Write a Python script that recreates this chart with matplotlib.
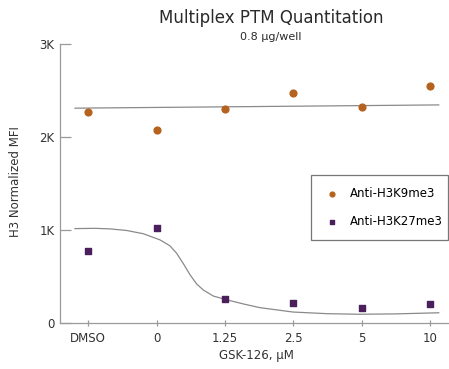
import matplotlib
matplotlib.use("Agg")
import matplotlib.pyplot as plt

# data
categories = ['DMSO', '0', '1.25', '2.5', '5', '10']
h3k9 = [2270, 2070, 2300, 2470, 2320, 2550]
h3k27 = [770, 1020, 260, 210, 165, 200]

# fitted curves (x in category positions)
k9_fit_x = [-0.195, 5.13]
k9_fit_y = [2310, 2345]
k27_fit_x = [-0.195, 0.1, 0.317, 0.561, 0.805, 1.049, 1.195, 1.293, 1.390, 1.488, 1.586, 1.683,
             1.830, 2.025, 2.269, 2.512, 2.995, 3.5, 3.975, 4.5, 5.13]
k27_fit_y = [1015, 1018, 1012, 995, 960, 894, 830, 750, 640, 520, 420, 355,
             290, 250, 205, 165, 118, 100, 94, 98, 110]

orange = '#b5621f'
purple = '#4a1f5c'
spine = '#9a9a9a'
txt = '#333333'

fig = plt.figure(figsize=(4.49, 3.69), dpi=100)
ax = fig.add_axes([60/449, 1-323/369, 389/449, (323-44)/369])

ax.plot(k9_fit_x, k9_fit_y, color='#8a8a8a', lw=0.9)
ax.plot(k27_fit_x, k27_fit_y, color='#8a8a8a', lw=0.9)
ax.scatter(range(len(categories)), h3k9, s=24, color=orange, marker='o', label='Anti-H3K9me3', zorder=3)
ax.scatter(range(len(categories)), h3k27, s=14, color=purple, marker='s', label='Anti-H3K27me3', zorder=3)

ax.set_xlim(-0.414, 5.28)
ax.set_ylim(0, 3000)
ax.set_yticks([0, 1000, 2000, 3000])
ax.set_yticklabels(['0', '1K', '2K', '3K'])
ax.set_xticks(range(len(categories)))
ax.set_xticklabels(categories)

for s in ['top', 'right']:
    ax.spines[s].set_visible(False)
for s in ['left', 'bottom']:
    ax.spines[s].set_color(spine)
    ax.spines[s].set_linewidth(0.9)
ax.tick_params(axis='y', direction='in', length=8, width=0.9, color=spine, labelsize=8.5, labelcolor=txt, pad=4)
ax.tick_params(axis='x', direction='inout', length=5, width=0.9, color=spine, labelsize=8.5, labelcolor=txt, pad=4)

fig.text(16/449, 1-182/369, 'H3 Normalized MFI', rotation=90, ha='center', va='center', fontsize=8.5, color=txt)
fig.text(256/449, 1-355/369, 'GSK-126, µM', ha='center', va='center', fontsize=8.5, color=txt)

fig.text(271/449, 1-18/369, 'Multiplex PTM Quantitation', ha='center', va='center', fontsize=12, color='#2a2a2a')
fig.text(271/449, 1-37/369, '0.8 µg/well', ha='center', va='center', fontsize=8, color='#2a2a2a')

leg = ax.legend(loc='upper left', bbox_to_anchor=((311-60)/389, (323-178)/279, (448-311)/389, 0.01),
                mode='expand', fontsize=8.5, frameon=True, fancybox=False, handletextpad=0.7,
                handlelength=1.6, borderpad=1.0, labelspacing=1.3, markerscale=0.7, borderaxespad=0)
leg.get_frame().set_edgecolor('#555555')
leg.get_frame().set_linewidth(0.9)

fig.savefig('out.png', dpi=100)
